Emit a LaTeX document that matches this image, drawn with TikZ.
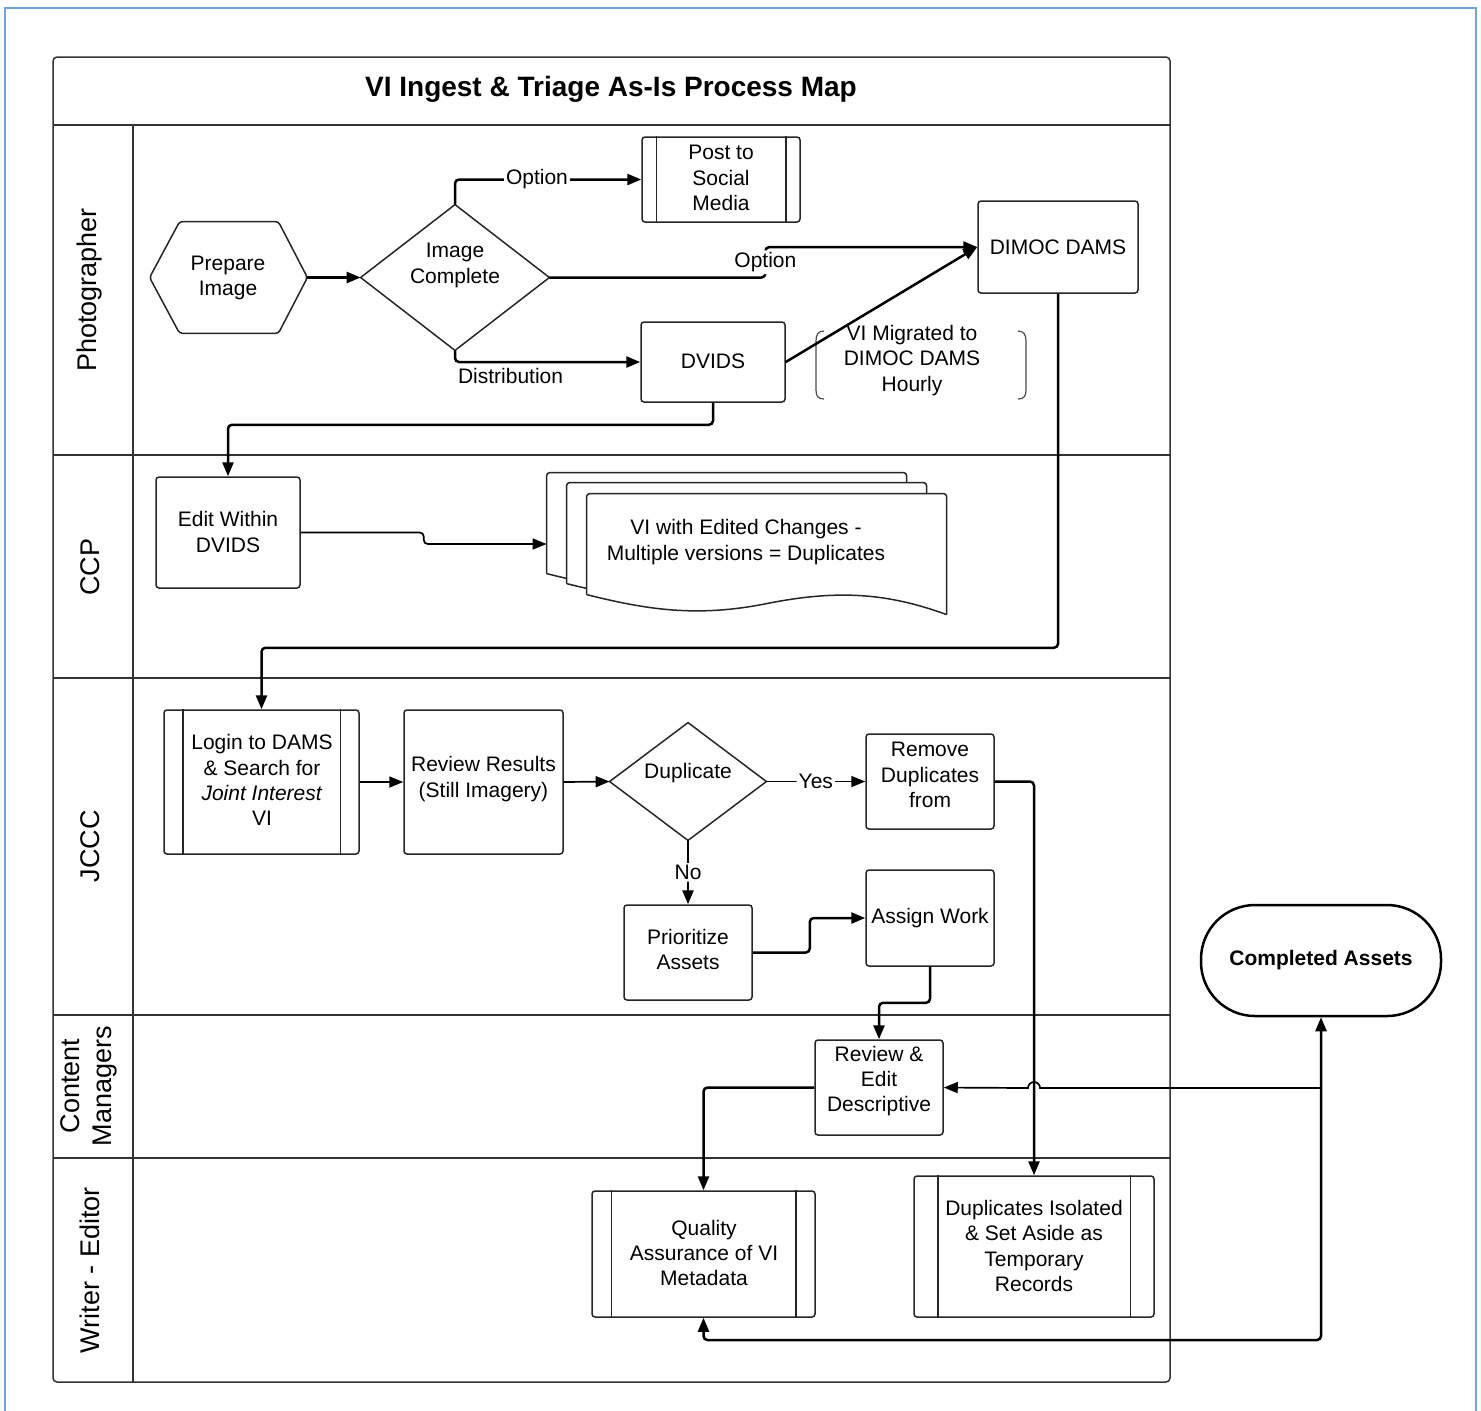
\documentclass[tikz,border=0pt]{standalone}
\usepackage{fontspec}
\setmainfont{Liberation Sans}
\usetikzlibrary{arrows.meta,calc}
\newcommand\bodyfont{\fontsize{10.5}{12.6}\selectfont}
\newcommand\lanefont{\fontsize{13.5}{16}\selectfont}
\newcommand\subrlines[2]{\draw[boxline] ([xshift=#2]#1.north west) -- ([xshift=#2]#1.south west) ([xshift=-#2]#1.north east) -- ([xshift=-#2]#1.south east);}
\definecolor{frameblue}{RGB}{111,168,220}
\begin{document}
\begin{tikzpicture}[x=0.5pt,y=-0.5pt,
 boxline/.style={draw=black!85, line width=0.75pt},
 pbox/.style n args={2}{boxline, fill=white, rounded corners=1.5pt, inner sep=0pt, minimum width=#1*0.5pt, minimum height=#2*0.5pt},
 shapeonly/.style n args={2}{inner sep=0pt, minimum width=#1*0.5pt, minimum height=#2*0.5pt},
 txt/.style={align=center, inner sep=0pt, font=\bodyfont, yshift=-1pt},
 lbl/.style={font=\bodyfont, fill=white, inner sep=1pt},
 lane/.style={draw=black!80, line width=0.75pt},
 lanetxt/.style={rotate=90, align=center, font=\lanefont, inner sep=0pt},
 arr/.style={draw=black, line width=1.25pt, rounded corners=2pt, -{Triangle[length=7pt,width=5.5pt]}},
 arrthin/.style={arr, line width=0.85pt},
 arrboth/.style={arr, {Triangle[length=7pt,width=5.5pt]}-{Triangle[length=7pt,width=5.5pt]}},
 brk/.style={draw=black!70, line width=0.6pt},
 pics/vidoc/.style={code={
   \fill[white] (0,101) -- (0,0) -- (360,0) -- (360,121) .. controls (300,99) and (250,96) .. (180,110) .. controls (110,124) and (60,116) .. (0,101) -- cycle;
   \draw[boxline, rounded corners=1.5pt] (0,101) -- (0,0) -- (360,0) -- (360,121);
   \draw[boxline] (360,121) .. controls (300,99) and (250,96) .. (180,110) .. controls (110,124) and (60,116) .. (0,101);
 }}]
\useasboundingbox (0,0) rectangle (1481,1410);
% outer frame
\draw[frameblue, line width=1pt] (5,1412) -- (5,8) -- (1476,8) -- (1476,1412);
% pool
\draw[lane, rounded corners=2pt] (53,57) rectangle (1170,1382);
\draw[lane] (53,125) -- (1170,125);
\draw[lane] (133,125) -- (133,1382);
\draw[lane] (53,455) -- (1170,455);
\draw[lane] (53,678) -- (1170,678);
\draw[lane] (53,1015) -- (1170,1015);
\draw[lane] (53,1158) -- (1170,1158);
\node[font=\bfseries\fontsize{14}{17}\selectfont, inner sep=0pt] (title) at (611,89) {VI Ingest \& Triage As-Is Process Map};
\node[lanetxt] (l1) at (90,290) {Photographer};
\node[lanetxt] (l2) at (90,567) {CCP};
\node[lanetxt] (l3) at (90,846) {JCCC};
\node[lanetxt] (l4) at (89,1086) {Content\\Managers};
\node[lanetxt] (l5) at (90,1270) {Writer - Editor};

% Photographer lane
\node[shapeonly={157}{111}] (prep) at (228.5,277.5) {};
\draw[boxline, fill=white, rounded corners=1.5pt] (prep.west) -- ([xshift=15pt]prep.north west) -- ([xshift=-14.5pt]prep.north east) -- (prep.east) -- ([xshift=-14.5pt]prep.south east) -- ([xshift=15pt]prep.south west) -- cycle;
\node[txt] (prept) at (228,276) {Prepare\\Image};

\node[shapeonly={188}{145}] (ic) at (455,277.5) {};
\draw[boxline, fill=white] (ic.west) -- (ic.north) -- (ic.east) -- (ic.south) -- cycle;
\node[txt] (ict) at (455,263.5) {Image\\Complete};

\node[pbox={158}{85}] (post) at (721,179.5) {};
\subrlines{post}{7.5pt}
\node[txt] (postt) at (721,176) {Post to\\Social\\Media};

\node[pbox={160}{92}] (dimoc) at (1058,247) {};
\node[txt] (dimoct) at (1058,245) {DIMOC DAMS};

\node[pbox={144}{80}] (dvids) at (713,362) {};
\node[txt] (dvidst) at (713,359) {DVIDS};

\node[txt] (mig) at (912,358.5) {VI Migrated to\\DIMOC DAMS\\Hourly};
\draw[brk] (824,331) .. controls (818,331) and (816,335) .. (816,341) -- (816,390) .. controls (816,396) and (818,399) .. (824,399);
\draw[brk] (1018,331) .. controls (1024,331) and (1026,335) .. (1026,341) -- (1026,390) .. controls (1026,396) and (1024,399) .. (1018,399);

% CCP lane
\node[pbox={144}{111}] (edit) at (228,532.5) {};
\node[txt] (editt) at (228,530) {Edit Within\\DVIDS};

\node[shapeonly={400}{142}] (docs) at (747,544) {};
\pic at (docs.north west) {vidoc};
\pic at ($(docs.north west)+(20,10)$) {vidoc};
\pic at ($(docs.north west)+(40,21)$) {vidoc};
\node[txt] (doct) at (746,540) {VI with Edited Changes -\\Multiple versions = Duplicates};

% JCCC lane
\node[pbox={195}{144}] (login) at (261.5,782) {};
\subrlines{login}{9.75pt}
\node[txt] (logint) at (262,778) {Login to DAMS\\\& Search for\\\textit{Joint Interest}\\VI};

\node[pbox={159}{144}] (review) at (483.5,782) {};
\node[txt] (reviewt) at (483.5,777) {Review Results\\(Still Imagery)};

\node[shapeonly={156}{117}] (dup) at (688,781.5) {};
\draw[boxline, fill=white] (dup.west) -- (dup.north) -- (dup.east) -- (dup.south) -- cycle;
\node[txt] (dupt) at (688,771) {Duplicate};

\node[pbox={128}{95}] (remove) at (930,781.5) {};
\node[txt] (removet) at (930,773) {Remove\\Duplicates\\from};

\node[pbox={128}{95}] (prior) at (688,952.5) {};
\node[txt] (priort) at (688,947.5) {Prioritize\\Assets};

\node[pbox={128}{96}] (assign) at (930,918) {};
\node[txt] (assignt) at (930,916) {Assign Work};

% Content managers
\node[pbox={128}{95}] (re) at (879,1087.5) {};
\node[txt] (ret) at (879,1079) {Review \&\\Edit\\Descriptive};

% Writer - Editor
\node[pbox={223}{126}] (qa) at (703.5,1254) {};
\subrlines{qa}{10pt}
\node[txt] (qat) at (704,1251) {Quality\\Assurance of VI\\Metadata};

\node[pbox={240}{141}] (di) at (1034,1246.5) {};
\subrlines{di}{12.25pt}
\node[txt] (dit) at (1034,1244) {Duplicates Isolated\\\& Set Aside as\\Temporary\\Records};

% Completed assets
\node[draw, line width=1.25pt, fill=white, rounded corners=27pt, inner sep=0pt, minimum width=120pt, minimum height=55.5pt, font=\bfseries\bodyfont] (ca) at (1321,960.5) {Completed Assets};

% connectors
\draw[arr] (prep.east) -- (ic.west);
\draw[arr] (ic.north) |- node[lbl, pos=0.72] {Option} (post.west);
\draw[arr] (ic.east) -- ++(216,0) |- node[lbl, pos=0.25] {Option} (dimoc.west);
\draw[arr] (ic.south) |- node[pos=0.65, anchor=north, font=\bodyfont, inner sep=2.5pt] {Distribution} (dvids.west);
\draw[arr] (dvids.east) -- (dimoc.west);
\draw[arr] (dvids.south) -- ++(0,22) -| (edit.north);
\draw[arrthin] (edit.east) -- ++(123,0) |- (docs.west);
\draw[arr] (dimoc.south) -- ++(0,354) -| (login.north);
\draw[arrthin] (login.east) -- (review.west);
\draw[arrthin] (review.east) -- (dup.west);
\draw[arrthin] (dup.east) -- node[lbl] {Yes} (remove.west);
\draw[arr] (dup.south) -- node[lbl] {No} (prior.north);
\draw[arr] (prior.east) -- ++(57,0) |- (assign.west);
\draw[arr] (assign.south) -- ++(0,36) -| (re.north);
\draw[arr] (remove.east) -| (di.north);
\coordinate (j1) at (1321,1088);
\coordinate (j2) at (1321,1340);
\draw[arrboth] (qa.south) |- (j2) -- (ca.south);
\draw[arrthin, sharp corners] (j1) -- ($(di.north |- j1)+(6,0)$) arc[start angle=0, end angle=180, radius=3pt] -- (re.east);
\draw[arr] (re.west) -| (qa.north);
\end{tikzpicture}
\end{document}
